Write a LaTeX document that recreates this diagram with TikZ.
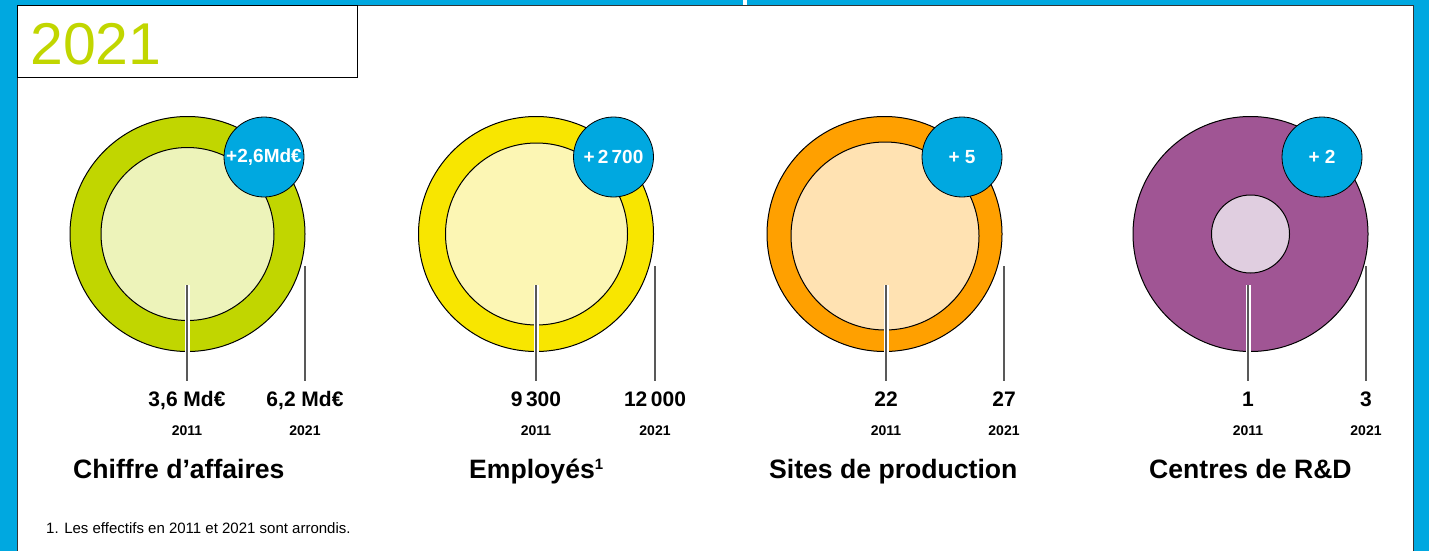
\documentclass[tikz,border=0pt]{standalone}
\usepackage{fontspec}
\setmainfont{Liberation Sans}
\usepackage{tikz}
\usetikzlibrary{positioning}
\definecolor{skyblue}{RGB}{0,168,224}
\definecolor{lime}{RGB}{193,214,0}
\definecolor{limelight}{RGB}{237,243,186}
\definecolor{sun}{RGB}{248,230,0}
\definecolor{sunlight}{RGB}{252,246,180}
\definecolor{tangerine}{RGB}{255,160,0}
\definecolor{tangerinelight}{RGB}{255,226,178}
\definecolor{plum}{RGB}{160,85,148}
\definecolor{plumlight}{RGB}{224,206,224}
\tikzstyle{ring} = [circle, draw=black, line width=1pt, inner sep=0pt, outer sep=0pt, minimum size=235pt]
\tikzstyle{core} = [circle, draw=black, line width=1pt, inner sep=0pt, outer sep=0pt]
\tikzstyle{badge} = [circle, draw=black, line width=0.8pt, fill=skyblue, text=white, inner sep=0pt, minimum size=80pt, font=\bfseries\fontsize{19}{19}\selectfont]
\tikzstyle{valuetxt} = [anchor=south, inner sep=0pt, text height=15pt, text depth=0pt, font=\bfseries\fontsize{21}{21}\selectfont]
\tikzstyle{yeartxt} = [inner sep=0pt, text height=10pt, text depth=0pt, font=\bfseries\fontsize{14}{14}\selectfont]
\tikzstyle{titletxt} = [anchor=base west, inner sep=0pt, font=\bfseries\fontsize{26.6}{26.6}\selectfont]
\tikzstyle{halo} = [draw=white, line width=5pt]
\tikzstyle{leadline} = [draw=black!65, line width=1.5pt]

\begin{document}
\begin{tikzpicture}[x=1pt, y=-1pt]
\useasboundingbox (0,0) rectangle (1429,551);

% frame =============================
\fill[skyblue] (0,0) rectangle (1429,551);
\fill[white] (743,0) rectangle (747,6);
\draw[black!80, fill=white, line width=1pt] (17,6) rectangle (1413,560);
\node[draw=black, line width=1pt, anchor=north west, inner sep=0pt, outer sep=0pt, minimum width=340pt, minimum height=71pt] (yearbox) at (17,6) {};
\node[anchor=base west, inner sep=0pt, text=lime, font=\fontsize{59}{59}\selectfont] (bigyear) at (30,65) {2021};

% circles =============================
\node[ring, fill=lime] (ca) at (187.5,234) {};
\node[core, fill=limelight, minimum size=173pt] (ca0) at (187.5,234) {};
\node[ring, fill=sun] (emp) at (536,234) {};
\node[core, fill=sunlight, minimum size=182pt] (emp0) at (536.5,234) {};
\node[ring, fill=tangerine] (site) at (884.5,234) {};
\node[core, fill=tangerinelight, minimum size=188pt] (site0) at (885,236) {};
\node[ring, fill=plum] (rd) at (1250.5,234) {};
\node[core, fill=plumlight, minimum size=78pt] (rd0) at (1250.5,234) {};

% values
\node[valuetxt] (ca1) at (187,407) {3,6 Md€};
\node[valuetxt] (ca2) at (305,407) {6,2 Md€};
\node[valuetxt] (emp1) at (536,407) {9\,300};
\node[valuetxt] (emp2) at (655,407) {12\,000};
\node[valuetxt] (site1) at (886,407) {22};
\node[valuetxt] (site2) at (1004,407) {27};
\node[valuetxt] (rd1) at (1248,407) {1};
\node[valuetxt] (rd2) at (1366,407) {3};

\node[yeartxt, below=18pt of ca1] {2011};
\node[yeartxt, below=18pt of ca2] {2021};
\node[yeartxt, below=18pt of emp1] {2011};
\node[yeartxt, below=18pt of emp2] {2021};
\node[yeartxt, below=18pt of site1] {2011};
\node[yeartxt, below=18pt of site2] {2021};
\node[yeartxt, below=18pt of rd1] {2011};
\node[yeartxt, below=18pt of rd2] {2021};

% lead lines
\coordinate (ca1top) at (187,285);
\coordinate (ca2top) at (305,266);
\coordinate (emp1top) at (536,285);
\coordinate (emp2top) at (655,266);
\coordinate (site1top) at (886,285);
\coordinate (site2top) at (1004,266);
\coordinate (rd1top) at (1248,285);
\coordinate (rd2top) at (1366,266);

\path[halo] (ca1top) edge ([yshift=11pt]ca1.north);
\path[halo] (emp1top) edge ([yshift=11pt]emp1.north);
\path[halo] (site1top) edge ([yshift=11pt]site1.north);
\path[halo] (rd1top) edge ([yshift=11pt]rd1.north);
\path[leadline] (ca1top) edge ([yshift=11pt]ca1.north);
\path[leadline] (ca2top) edge ([yshift=11pt]ca2.north);
\path[leadline] (emp1top) edge ([yshift=11pt]emp1.north);
\path[leadline] (emp2top) edge ([yshift=11pt]emp2.north);
\path[leadline] (site1top) edge ([yshift=11pt]site1.north);
\path[leadline] (site2top) edge ([yshift=11pt]site2.north);
\path[leadline] (rd1top) edge ([yshift=11pt]rd1.north);
\path[leadline] (rd2top) edge ([yshift=11pt]rd2.north);

% badges
\node[badge] (caplus) at (264,157) {+2,6Md€};
\node[badge] (empplus) at (613.5,157) {+\,2\,700};
\node[badge] (siteplus) at (962,157) {+ 5};
\node[badge] (rdplus) at (1322,157) {+ 2};

% titles
\node[titletxt] (catitle) at (73,478) {Chiffre d’affaires};
\node[titletxt] (emptitle) at (469,478) {Employés\raisebox{9pt}{\fontsize{15}{15}\selectfont 1}};
\node[titletxt] (sitetitle) at (769,478) {Sites de production};
\node[titletxt] (rdtitle) at (1149,478) {Centres de R\&D};

\node[anchor=base west, inner sep=0pt, font=\fontsize{15}{15}\selectfont] (note) at (46,533) {1. Les effectifs en 2011 et 2021 sont arrondis.};

\end{tikzpicture}
\end{document}
